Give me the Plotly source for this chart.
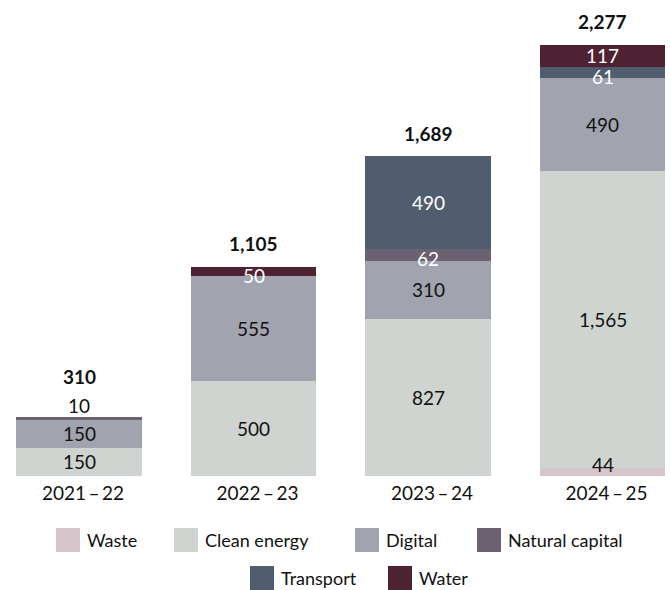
import plotly.graph_objects as go

# Funding by sector and year (£m)
years = ["2021\u2009\u2013\u200922", "2022\u2009\u2013\u200923", "2023\u2009\u2013\u200924", "2024\u2009\u2013\u200925"]
sectors = ["Waste", "Clean energy", "Digital", "Natural capital", "Transport", "Water"]
waste = [0, 0, 0, 44]
clean_energy = [150, 500, 827, 1565]
digital = [150, 555, 310, 490]
natural_capital = [10, 0, 62, 0]
transport = [0, 0, 490, 61]
water = [0, 50, 0, 117]

series = [waste, clean_energy, digital, natural_capital, transport, water]
colors = ["#d5c6cb", "#cfd4d0", "#a1a3ae", "#6b6170", "#505d6e", "#4f2233"]
light = {"Waste", "Clean energy", "Digital"}

FONT = "Lato, 'Open Sans', sans-serif"
DARK = "#111111"

W, H = 670, 590
PLOT_H = 476           # plot area height in px (margin t=0)
Y_MAX = 2513
px_per_unit = PLOT_H / Y_MAX

fig = go.Figure()
for name, vals, col in zip(sectors, series, colors):
    fig.add_trace(go.Bar(
        x=years, y=vals, name=name, marker=dict(color=col, line=dict(width=0)),
        textposition="none", hoverinfo="x+y+name", showlegend=False,
    ))

annotations = []
for i, yr in enumerate(years):
    base = 0
    segs = [(name, s[i], col) for name, s, col in zip(sectors, series, colors) if s[i] > 0]
    total = sum(v for _, v, _ in segs)
    extra_total_shift = 0
    for k, (name, v, col) in enumerate(segs):
        thick = v * px_per_unit
        color = DARK if name in light else "white"
        shift = 0
        if thick < 5:
            # too thin to hold text: label sits just above the bar
            shift = thick / 2 + 12
            color = DARK
            if k == len(segs) - 1:
                extra_total_shift = 18
        elif thick < 12:
            shift = 7 if k == 0 else -4
        annotations.append(dict(
            x=yr, y=base + v / 2, xref="x", yref="y", text=f"{v:,}",
            showarrow=False, yshift=shift,
            font=dict(family=FONT, size=19, color=color),
        ))
        base += v
    annotations.append(dict(
        x=yr, y=total, xref="x", yref="y", text=f"<b>{total:,}</b>",
        showarrow=False, yshift=23 + extra_total_shift,
        font=dict(family=FONT, size=19, color=DARK),
    ))

# Legend drawn as swatches + labels (two centred rows)
def py(p):
    return (PLOT_H - p) / PLOT_H

legend_rows = [
    [("Waste", 56), ("Clean energy", 174), ("Digital", 355), ("Natural capital", 477)],
    [("Transport", 250), ("Water", 388)],
]
row_centers = [540, 578]
shapes = []
SW = 24
for row, cy in zip(legend_rows, row_centers):
    for name, x0 in row:
        col = colors[sectors.index(name)]
        shapes.append(dict(
            type="rect", xref="paper", yref="paper",
            x0=x0 / W, x1=(x0 + SW) / W, y0=py(cy + SW / 2), y1=py(cy - SW / 2),
            fillcolor=col, line=dict(width=0),
        ))
        annotations.append(dict(
            x=(x0 + SW + 5) / W, y=py(cy), xref="paper", yref="paper",
            xanchor="left", yanchor="middle", text=name, showarrow=False,
            font=dict(family=FONT, size=18, color=DARK),
        ))

fig.update_layout(
    width=W, height=H,
    margin=dict(l=0, r=0, t=0, b=H - PLOT_H),
    barmode="stack", bargap=0.28,
    plot_bgcolor="white", paper_bgcolor="white",
    font=dict(family=FONT, size=19, color=DARK),
    xaxis=dict(
        range=[-0.4527, 3.3868], showgrid=False, zeroline=False, showline=False,
        ticks="", tickfont=dict(family=FONT, size=19, color=DARK),
        ticklabelstandoff=4, ticklabelshift=4,
    ),
    yaxis=dict(range=[0, Y_MAX], visible=False, showgrid=False),
    shapes=shapes,
    annotations=annotations,
)

fig.write_html("out.html")
